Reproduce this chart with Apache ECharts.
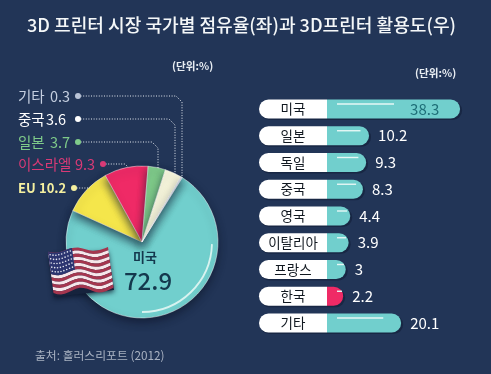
<!DOCTYPE html>
<html>
<head>
<meta charset="utf-8">
<title>3D 프린터</title>
<style>
html,body{margin:0;padding:0;background:#223557;}
#chart{width:491px;height:374px;}
</style>
<script src="https://cdn.jsdelivr.net/npm/echarts@6/dist/echarts.min.js"></script>
</head>
<body>
<div id="chart"></div>
<script>
var FONT = '"Noto Sans CJK KR","Noto Sans",sans-serif';

// 좌: 국가별 점유율
var shareNames = ['미국', 'EU', '이스라엘', '일본', '중국', '기타'];
var shareValues = [72.9, 10.2, 9.3, 3.7, 3.6, 0.3];
var shareColors = ['#71cfcd', '#f5e64b', '#ef2a66', '#7fcb8a', '#f7f6dc', '#c3ccdb'];

// 우: 3D프린터 활용도
var useNames = ['미국', '일본', '독일', '중국', '영국', '이탈리아', '프랑스', '한국', '기타'];
var useValues = [38.3, 10.2, 9.3, 8.3, 4.4, 3.9, 3, 2.2, 20.1];

var titleText = '3D 프린터 시장 국가별 점유율(좌)과 3D프린터 활용도(우)';
var unitText = '(단위:%)';
var sourceText = '출처: 홀러스리포트 (2012)';

// 왼쪽 라벨 위치 (이름 순서: 기타, 중국, 일본, 이스라엘, EU)
var calloutRows = [
    {name: '기타', y: 96, dot: 78, valX: 50, color: '#c5cfe0', dotColor: '#b9c3d6', size: 14.5, line: [[182, 102], [182, 178]]},
    {name: '중국', y: 119, dot: 78, valX: 46, color: '#ffffff', dotColor: '#ffffff', size: 14.5, line: [[175, 125], [175, 175]]},
    {name: '일본', y: 142, dot: 78, valX: 50, color: '#7fcb8a', dotColor: '#7fcb8a', size: 14.5, line: [[158, 148], [158, 168]]},
    {name: '이스라엘', y: 164, dot: 103, valX: 75, color: '#d83a76', dotColor: '#d83a76', size: 14.5, line: [[128, 167]]},
    {name: 'EU', y: 188, dot: 74, valX: 39, color: '#f5f0a0', dotColor: '#f5f0a0', size: 13, line: [[90, 188]]}
];

var graphics = [];

function addText(x, y, text, size, color, weight, align) {
    graphics.push({
        type: 'text', x: x, y: y, z: 20,
        style: {text: text, fontSize: size, fill: color, fontWeight: weight || 'normal',
            fontFamily: FONT, align: align || 'left', verticalAlign: 'middle'}
    });
}

addText(27, 25, titleText, 18.1, '#f4f7f8', 500);
addText(172, 66, unitText, 10.6, '#e8edf2', 700);
addText(415, 73, unitText, 10.6, '#e8edf2', 700);
addText(35, 356, sourceText, 11.8, '#a9b2c2');

calloutRows.forEach(function (row) {
    var value = shareValues[shareNames.indexOf(row.name)];
    addText(18, row.y, row.name, row.size, row.color, row.name == 'EU' ? 700 : 400);
    addText(row.valX, row.y, String(value), row.size, row.color, row.name == 'EU' ? 700 : 400);
    var pts = [[row.dot, row.y]];
    if (row.line.length > 1) {
        pts.push([row.line[0][0] - 6, row.y]);
    }
    row.line.forEach(function (p) { pts.push(p); });
    if (row.line.length == 1) {
        pts = [[row.dot, row.y], [row.line[0][0] - 3, row.y], row.line[0]];
    }
    graphics.push({
        type: 'polyline', z: 3,
        shape: {points: pts, smooth: 0},
        style: {stroke: '#e4e9f0', lineWidth: 1, lineDash: [1, 1.6], fill: null}
    });
    graphics.push({
        type: 'circle', z: 4,
        shape: {cx: row.dot, cy: row.y, r: 3},
        style: {fill: row.dotColor}
    });
});

// 파이 안쪽 하이라이트
graphics.push({
    type: 'arc', z: 12,
    shape: {cx: 142, cy: 242, r: 70, startAngle: 0.03, endAngle: Math.PI / 2, clockwise: true},
    style: {stroke: '#d8f3f0', lineWidth: 1.8, fill: null}
});
addText(145, 257, shareNames[0], 13, '#14384d', 700, 'center');
addText(148, 281, String(shareValues[0]), 24, '#14384d', 500, 'center');

// 성조기 (장식)
function flagPoint(u, v) {
    var wave = 2.6 * Math.sin(u * 9.5 + 0.4) * (0.8 + 0.3 * v);
    return [48 + 60 * u + 5.5 * v, 251 - 3 * u + 41 * v + wave];
}
function flagPatch(u0, u1, v0, v1, color) {
    var pts = [], i;
    for (i = 0; i <= 16; i++) { pts.push(flagPoint(u0 + (u1 - u0) * i / 16, v0)); }
    for (i = 16; i >= 0; i--) { pts.push(flagPoint(u0 + (u1 - u0) * i / 16, v1)); }
    graphics.push({type: 'polygon', z: 15, shape: {points: pts}, style: {fill: color}});
}
graphics.push({
    type: 'polygon', z: 14,
    shape: {points: [[49, 254], [108, 250], [114, 290], [54, 297]]},
    style: {fill: '#16233d', shadowBlur: 5, shadowColor: 'rgba(10,20,40,0.8)', shadowOffsetY: 2}
});
for (var s = 0; s < 13; s++) {
    flagPatch(0, 1, s / 13, (s + 1) / 13, s % 2 ? '#f6e6ea' : '#a5364f');
}
flagPatch(0, 0.4, 0, 7 / 13, '#2c3570');
for (var a = 0; a < 8; a++) {
    for (var b = 0; b < 5; b++) {
        var star = flagPoint(0.03 + a * 0.048, 0.06 + b * 0.1);
        graphics.push({type: 'circle', z: 16, shape: {cx: star[0], cy: star[1], r: 0.8}, style: {fill: '#e6e8f2'}});
    }
}

var TEAL_FROM = -2.78;   // 흰 라벨 끝나는 지점

function renderBar(params, api) {
    var value = api.value(0);
    var cat = api.value(1);
    var idx = params.dataIndex;
    var h = 19;
    var left = api.coord([-23.77, cat]);
    var mid = api.coord([TEAL_FROM, cat]);
    var end = api.coord([value, cat]);
    var zero = api.coord([0, cat]);
    var top = left[1] - h / 2;
    var tealColor = useNames[idx] == '한국' ? '#ef2a66' : '#71cfcd';
    var hlLen = Math.min(value * 2.3, 57);
    var inside = idx === 0;
    return {
        type: 'group',
        children: [
            {type: 'rect', shape: {x: left[0] + 1, y: top + 1.5, width: end[0] - left[0] + 1, height: h, r: 9.5},
                style: {fill: '#182744'}},
            {type: 'rect', shape: {x: left[0], y: top, width: mid[0] - left[0], height: h, r: [9.5, 0, 0, 9.5]},
                style: {fill: '#ffffff'}},
            {type: 'rect', shape: {x: mid[0], y: top, width: end[0] - mid[0], height: h, r: [0, 9.5, 9.5, 0]},
                style: {fill: tealColor}},
            {type: 'line', shape: {x1: zero[0] + 1, y1: top + 4.5, x2: zero[0] + 1 + hlLen, y2: top + 4.5},
                style: {stroke: '#e6f7f5', lineWidth: 1.4}},
            {type: 'text', x: (left[0] + mid[0]) / 2, y: left[1],
                style: {text: useNames[idx], fontSize: 13.5, fill: '#111820', fontFamily: FONT,
                    align: 'center', verticalAlign: 'middle'}},
            {type: 'text', x: inside ? end[0] - 50 : end[0] + 9, y: left[1],
                style: {text: String(value), fontSize: 15, fill: inside ? '#1f6f78' : '#ffffff', fontFamily: FONT,
                    align: 'left', verticalAlign: 'middle'}}
        ]
    };
}

var myChart = echarts.init(document.getElementById('chart'));
var option = {
    animation: false,
    backgroundColor: '#223557',
    grid: {left: 259, top: 95.6, width: 201, height: 240.8},
    xAxis: {type: 'value', min: -23.77, max: 38.27, show: false},
    yAxis: {type: 'category', data: useNames, inverse: true, show: false},
    series: [
        {
            type: 'pie',
            center: [142, 242],
            radius: 76,
            startAngle: 58,
            label: {show: false},
            labelLine: {show: false},
            itemStyle: {
                borderColor: 'rgba(255,255,255,0.75)',
                borderWidth: 0.6,
                shadowBlur: 8,
                shadowOffsetY: 4,
                shadowColor: 'rgba(15,25,45,0.7)'
            },
            data: shareNames.map(function (n, i) {
                return {name: n, value: shareValues[i], itemStyle: {color: shareColors[i]}};
            })
        },
        {
            type: 'custom',
            renderItem: renderBar,
            encode: {x: 0, y: 1},
            data: useValues.map(function (v, i) { return [v, i]; })
        }
    ],
    graphic: graphics
};
myChart.setOption(option);
</script>
</body>
</html>
